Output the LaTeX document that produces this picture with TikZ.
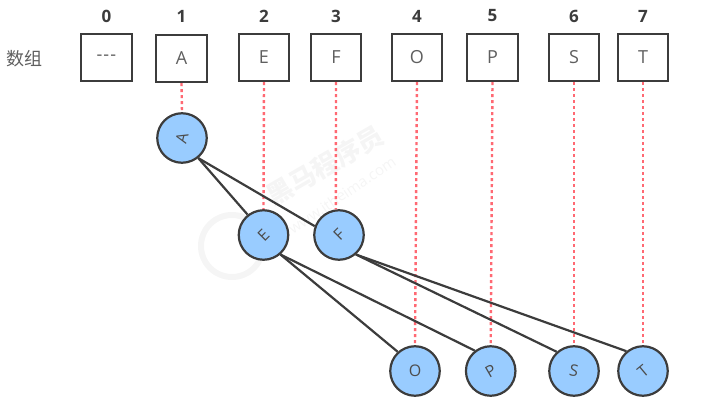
\documentclass[tikz,border=0pt]{standalone}
\usepackage{fontspec}
\setmainfont{Open Sans}
\newfontfamily\cjkfont{Noto Sans CJK SC}
\definecolor{cEdge}{RGB}{60,60,60}
\definecolor{cText}{RGB}{95,95,95}
\definecolor{cNode}{RGB}{153,204,255}
\definecolor{cLink}{RGB}{255,105,115}
\definecolor{cWash}{RGB}{245,245,245}
\tikzset{
  slot/.style={
    rectangle, draw=cEdge, line width=2.2pt, fill=white, text=cText,
    minimum width=50.5pt, minimum height=47pt, inner sep=0pt, font=\fontsize{18}{20}\selectfont,
  },
  idx/.style={font=\fontsize{17}{19}\selectfont\bfseries, text=cEdge, inner sep=0pt},
  tree/.style={
    circle, draw=cEdge, line width=2.2pt, fill=cNode, text=cText!80!black,
    minimum size=49.5pt, inner sep=0pt, font=\fontsize{16}{18}\selectfont,
  },
  link/.style={draw=cLink, line width=2.4pt, dash pattern=on 3pt off 3pt},
  branch/.style={draw=cEdge, line width=2.2pt},
  wash/.style={text=cWash, inner sep=0pt},
}

\begin{document}
\begin{tikzpicture}[x=1pt, y=-1pt]
\useasboundingbox (0,0) rectangle (710,412);

% ===== faint mark behind the tree =====
\node[draw=cWash, line width=6pt, circle, minimum size=62pt] (badge) at (232,246) {};
\node[wash, rotate=30, font=\cjkfont\bfseries\fontsize{26}{28}\selectfont] (brand) at (325,165) {黑马程序员};
\node[wash, rotate=34, font=\fontsize{15}{17}\selectfont] (site) at (342,195) {www.itheima.com};

% ===== array slots =====
\node[font=\cjkfont\fontsize{18}{20}\selectfont, text=cText, inner sep=0pt] (title) at (24,59) {数组};

\node[slot] (s0) at (106.4,57.5) {\raisebox{-3pt}{-\kern1pt-\kern1pt-}};
\node[slot] (s1) at (181.5,58.5) {A};
\node[slot] (s2) at (264,57.5) {E};
\node[slot] (s3) at (336,57.5) {F};
\node[slot] (s4) at (417,57.5) {O};
\node[slot] (s5) at (492.5,57.5) {P};
\node[slot] (s6) at (574,57.5) {S};
\node[slot] (s7) at (643,57.5) {T};

% ===== indices above the slots =====
\node[idx] (i0) at (106.4,16) {0};
\node[idx] (i1) at (181.5,16) {1};
\node[idx] (i2) at (264,16) {2};
\node[idx] (i3) at (336,16) {3};
\node[idx] (i4) at (417,16) {4};
\node[idx] (i5) at (492.5,16) {5};
\node[idx] (i6) at (574,16) {6};
\node[idx] (i7) at (643,16) {7};

% ===== tree nodes =====
\node[tree] (A) at (182,138) {\rotatebox{75}{A}};
\node[tree] (E) at (263.5,235) {\rotatebox{45}{E}};
\node[tree] (F) at (339,235) {\rotatebox{45}{F}};
\node[tree] (O) at (415,371) {O};
\node[tree] (P) at (490.7,371) {\rotatebox{30}{P}};
\node[tree] (S) at (574,371) {\rotatebox{-10}{S}};
\node[tree] (T) at (643,371) {\rotatebox{40}{T}};

% ===== dotted links from slots down to tree nodes =====
\draw[link] (s1.south) -- (A.north);
\draw[link] (s2.south) -- (E.north);
\draw[link] (s3.south) -- (F.97);
\draw[link] (s4.south) -- (O.north);
\draw[link] (s5.south) -- (P.north);
\draw[link] (s6.south) -- (S.north);
\draw[link] (s7.south) -- (T.north);

% ===== tree edges =====
\draw[branch] (A.-51) -- (E.128);
\draw[branch] (A.-51) -- (F.160);
\draw[branch] (E.-49) -- (O.132);
\draw[branch] (E.-49) -- (P.128);
\draw[branch] (F.-49) -- (S.132);
\draw[branch] (F.-49) -- (T.130);

\end{tikzpicture}
\end{document}
